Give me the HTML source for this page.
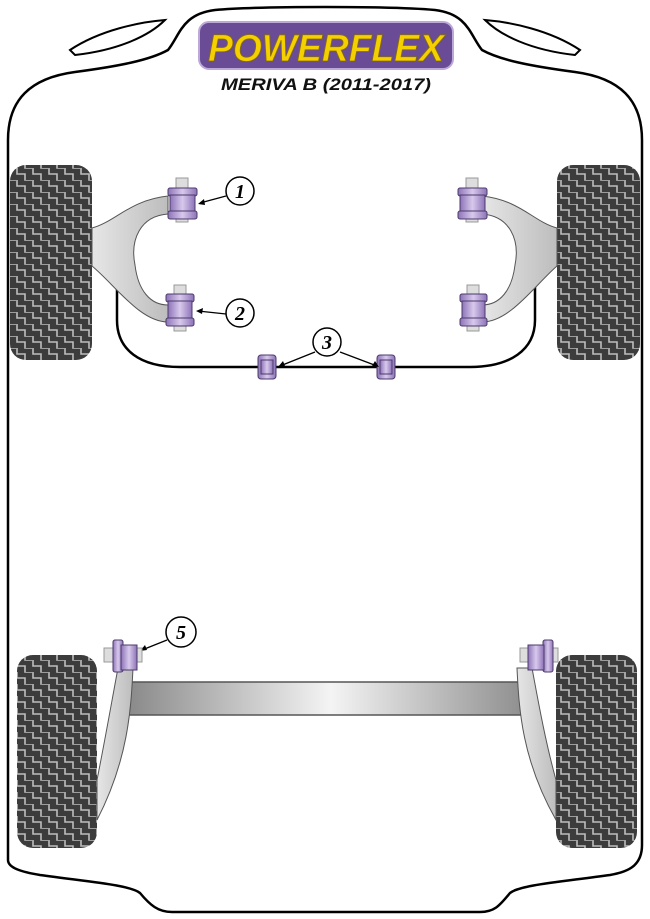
<!DOCTYPE html>
<html><head><style>html,body{margin:0;padding:0;background:#fff}svg{display:block}</style></head><body>
<svg width="650" height="919" viewBox="0 0 650 919" xmlns="http://www.w3.org/2000/svg">
<defs>
<pattern id="tread" width="16" height="12" patternUnits="userSpaceOnUse">
<rect width="16" height="12" fill="#3c3c3c"/>
<path d="M1 0 V6 H9 V12 M9 0 V0" stroke="#bdbdbd" stroke-width="1.6" fill="none"/>
<path d="M9 -6 V0 H17" stroke="#bdbdbd" stroke-width="1.6" fill="none"/>
</pattern>
<linearGradient id="beam" x1="0" x2="1" y1="0" y2="0">
<stop offset="0" stop-color="#8a8a8a"/><stop offset="0.5" stop-color="#f4f4f4"/><stop offset="1" stop-color="#8a8a8a"/>
</linearGradient>
<linearGradient id="arm" x1="0" x2="1"><stop offset="0" stop-color="#e6e6e6"/><stop offset="1" stop-color="#bdbdbd"/></linearGradient>
<linearGradient id="bush" x1="0" x2="1"><stop offset="0" stop-color="#8d73b8"/><stop offset="0.5" stop-color="#d8c9ec"/><stop offset="1" stop-color="#8d73b8"/></linearGradient>
</defs>
<!-- body outline -->
<path d="M8 860 V140 C8 100 30 78 75 72 C120 66 150 60 168 50 C180 35 182 14 215 10 C260 6 390 6 435 10 C468 14 470 35 482 50 C500 60 530 66 575 72 C620 78 642 100 642 140 V845 C642 868 625 872 610 875 C560 882 520 885 510 893 C500 905 495 912 480 912 H172 C158 912 150 905 140 893 C130 885 90 882 40 875 C22 872 8 868 8 860 Z" fill="#fff" stroke="#000" stroke-width="2.5"/>
<path d="M70 50 C100 30 140 22 165 20 C150 35 120 50 75 55 Z" fill="#fff" stroke="#000" stroke-width="2"/>
<path d="M580 50 C550 30 510 22 485 20 C500 35 530 50 575 55 Z" fill="#fff" stroke="#000" stroke-width="2"/>
<!-- logo -->
<rect x="199" y="22" width="254" height="47" rx="10" fill="#6a4b96" stroke="#bca9d8" stroke-width="2"/>
<text x="326" y="61" text-anchor="middle" font-family="Liberation Sans, sans-serif" font-weight="bold" font-style="italic" font-size="38" fill="#f4d000" stroke="#8a6e00" stroke-width="0.8" textLength="236" lengthAdjust="spacingAndGlyphs">POWERFLEX</text>
<text x="326" y="90" text-anchor="middle" font-family="Liberation Sans, sans-serif" font-weight="bold" font-style="italic" font-size="17" fill="#111" textLength="210" lengthAdjust="spacingAndGlyphs">MERIVA B (2011-2017)</text>
<!-- front tires -->
<rect x="10" y="165" width="82" height="195" rx="16" fill="url(#tread)"/>
<rect x="557" y="165" width="83" height="195" rx="16" fill="url(#tread)"/>
<!-- anti-roll bar -->
<path d="M117 278 V320 C117 350 140 367 180 367 H470 C510 367 535 350 535 320 V278" fill="none" stroke="#000" stroke-width="2.5"/>
<!-- front arms -->
<path d="M92 228 C115 222 130 200 168 196 V214 C140 216 130 240 135 265 C138 290 150 305 168 305 V322 C140 322 115 285 92 266 Z" fill="url(#arm)" stroke="#555" stroke-width="1"/>
<path d="M557 228 C534 222 520 200 482 196 V214 C510 216 520 240 515 265 C512 290 500 305 482 305 V322 C510 322 535 285 557 266 Z" fill="url(#arm)" stroke="#555" stroke-width="1"/>
<!-- bushings -->
<g stroke="#4b3a6b" stroke-width="1">
<rect x="176" y="178" width="12" height="44" fill="#ddd" stroke="#999"/>
<rect x="168" y="188" width="29" height="8" rx="2" fill="url(#bush)"/><rect x="170" y="195" width="25" height="18" fill="url(#bush)"/><rect x="168" y="211" width="29" height="8" rx="2" fill="url(#bush)"/>
<rect x="174" y="285" width="12" height="46" fill="#ddd" stroke="#999"/>
<rect x="166" y="294" width="28" height="8" rx="2" fill="url(#bush)"/><rect x="168" y="301" width="24" height="18" fill="url(#bush)"/><rect x="166" y="318" width="28" height="8" rx="2" fill="url(#bush)"/>
<rect x="466" y="178" width="12" height="44" fill="#ddd" stroke="#999"/>
<rect x="458" y="188" width="29" height="8" rx="2" fill="url(#bush)"/><rect x="460" y="195" width="25" height="18" fill="url(#bush)"/><rect x="458" y="211" width="29" height="8" rx="2" fill="url(#bush)"/>
<rect x="467" y="285" width="12" height="46" fill="#ddd" stroke="#999"/>
<rect x="460" y="294" width="27" height="8" rx="2" fill="url(#bush)"/><rect x="462" y="301" width="23" height="18" fill="url(#bush)"/><rect x="460" y="318" width="27" height="8" rx="2" fill="url(#bush)"/>
<rect x="258" y="355" width="18" height="24" rx="3" fill="url(#bush)"/><rect x="261" y="360" width="12" height="14" fill="url(#bush)"/>
<rect x="377" y="355" width="18" height="24" rx="3" fill="url(#bush)"/><rect x="380" y="360" width="12" height="14" fill="url(#bush)"/>
</g>
<!-- callouts -->
<g fill="#fff" stroke="#000" stroke-width="1.5">
<circle cx="240" cy="191" r="14"/><circle cx="240" cy="313" r="14"/><circle cx="327" cy="342" r="14"/><circle cx="181" cy="632" r="15"/>
</g>
<g stroke="#000" stroke-width="1.3" fill="none">
<path d="M226 196 L200 203"/><path d="M226 314 L198 311"/><path d="M315 352 L280 366"/><path d="M340 352 L377 366"/><path d="M167 640 L142 650"/>
</g>
<g fill="#000">
<path d="M198 204 l6 -5 l1 6z"/><path d="M196 311 l7 -3 l-1 6z"/><path d="M278 367 l5 -6 l2 5z"/><path d="M379 367 l-7 -1 l3 -5z"/><path d="M140 651 l5 -6 l2 5z"/>
</g>
<g font-family="Liberation Serif, serif" font-weight="bold" font-style="italic" font-size="20" text-anchor="middle" fill="#000">
<text x="240" y="198">1</text><text x="240" y="320">2</text><text x="327" y="349">3</text><text x="181" y="639">5</text>
</g>
<!-- rear -->
<rect x="129" y="682" width="404" height="33" fill="url(#beam)" stroke="#555" stroke-width="1.5"/>
<rect x="17" y="655" width="80" height="193" rx="16" fill="url(#tread)"/>
<rect x="556" y="655" width="81" height="193" rx="16" fill="url(#tread)"/>
<path d="M118 668 H133 C131 710 128 760 97 820 V780 C105 740 112 700 118 668 Z" fill="url(#arm)" stroke="#555" stroke-width="1"/>
<path d="M532 668 H517 C519 710 522 760 556 820 V780 C545 740 538 700 532 668 Z" fill="url(#arm)" stroke="#555" stroke-width="1"/>
<g stroke="#4b3a6b" stroke-width="1">
<rect x="104" y="648" width="38" height="14" fill="#ddd" stroke="#999"/>
<rect x="113" y="640" width="10" height="32" rx="2" fill="url(#bush)"/><rect x="121" y="645" width="16" height="25" fill="url(#bush)"/>
<rect x="520" y="648" width="38" height="14" fill="#ddd" stroke="#999"/>
<rect x="543" y="640" width="10" height="32" rx="2" fill="url(#bush)"/><rect x="528" y="645" width="16" height="25" fill="url(#bush)"/>
</g>
</svg>
</body></html>
